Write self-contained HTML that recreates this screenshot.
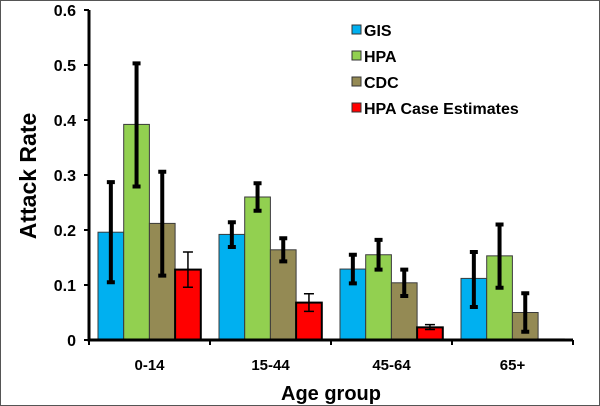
<!DOCTYPE html>
<html><head><meta charset="utf-8"><style>
body{margin:0;background:#fff}
svg{display:block;font-family:"Liberation Sans",Arial,sans-serif;font-weight:bold}
</style></head><body>
<svg id="c" width="600" height="406">
<rect x="0.5" y="0.5" width="599" height="405" fill="#fff" stroke="#555"/>
<g id="plot"></g>
<text x="36" y="176" font-size="23" text-anchor="middle" transform="rotate(-90 36 176)">Attack Rate</text>
<text x="331" y="400" font-size="20" text-anchor="middle">Age group</text>
</svg>
<script>
const categories=["0-14","15-44","45-64","65+"];
const seriesNames=["GIS","HPA","CDC","HPA Case Estimates"];
const gis=[0.196,0.192,0.129,0.112];
const hpa=[0.392,0.260,0.155,0.153];
const cdc=[0.212,0.164,0.104,0.050];
const hpaCase=[0.128,0.068,0.023,0.001];
const gisLo=[0.105,0.169,0.103,0.060], gisHi=[0.287,0.214,0.155,0.160];
const hpaLo=[0.279,0.235,0.128,0.095], hpaHi=[0.503,0.285,0.182,0.210];
const cdcLo=[0.117,0.143,0.080,0.015], cdcHi=[0.306,0.185,0.128,0.085];
const caseLo=[0.096,0.052,0.019,null], caseHi=[0.160,0.084,0.028,null];
const yTicks=[0,0.1,0.2,0.3,0.4,0.5,0.6];
const colors=["#00b0f0","#92d050","#948a54","#ff0000"];
const NS="http://www.w3.org/2000/svg";
const g=document.getElementById('plot');
const x0=89,x1=573,y0=340,y1=10,ymax=0.6;
const gw=(x1-x0)/categories.length;
const yS=v=>y0-(v/ymax)*(y0-y1);
function mk(t,a){const e=document.createElementNS(NS,t);for(const k in a)e.setAttribute(k,a[k]);g.appendChild(e);return e;}
const vals=[gis,hpa,cdc,hpaCase],los=[gisLo,hpaLo,cdcLo,caseLo],his=[gisHi,hpaHi,cdcHi,caseHi];
const bw=25.7;
categories.forEach((c,i)=>{
  vals.forEach((s,j)=>{
    const bx=x0+i*gw+9+j*bw;
    const r=mk('rect',{x:bx,y:yS(s[i]),width:bw,height:y0-yS(s[i]),fill:colors[j],stroke:j==3?'#000':'#3a3a3a','stroke-width':j==3?2:1});
    
    
  });
  vals.forEach((s,j)=>{
    if(los[j][i]==null)return;
    const cx=x0+i*gw+9+j*bw+bw/2;
    const w=j==3?1.5:4,cw=j==3?10:8;
    const e=mk('path',{d:`M${cx},${yS(los[j][i])}V${yS(his[j][i])}M${cx-cw/2},${yS(los[j][i])}h${cw}M${cx-cw/2},${yS(his[j][i])}h${cw}`,stroke:'#000','stroke-width':w,fill:'none'});
    
    
  });
  const t=mk('text',{x:x0+i*gw+gw/2,y:370,'font-size':15,'text-anchor':'middle'});t.textContent=c;
  
  
});
const ax=mk('path',{d:`M${x0},${y1}V${y0}H${x1}`,stroke:'#000','stroke-width':3,fill:'none'});


yTicks.forEach(v=>{
  const tk=mk('path',{d:`M${x0-5},${yS(v)}H${x0}`,stroke:'#000','stroke-width':2});
  
  
  const t=mk('text',{x:76,y:yS(v)+6,'font-size':16,'text-anchor':'end'});t.textContent=v===0?'0':v.toFixed(1);
  
  
});
for(let i=0;i<=categories.length;i++){
  const tk=mk('path',{d:`M${x0+i*gw},${y0}V${y0+5}`,stroke:'#000','stroke-width':2});
  
  
}
seriesNames.forEach((n,j)=>{
  const y=30+j*26;
  const r=mk('rect',{x:352,y:y-5,width:9,height:9,fill:colors[j],stroke:'#333','stroke-width':1});
  
  
  const t=mk('text',{x:364,y:y+6,'font-size':16});t.textContent=n;
  
  
});
</script>
</body></html>
